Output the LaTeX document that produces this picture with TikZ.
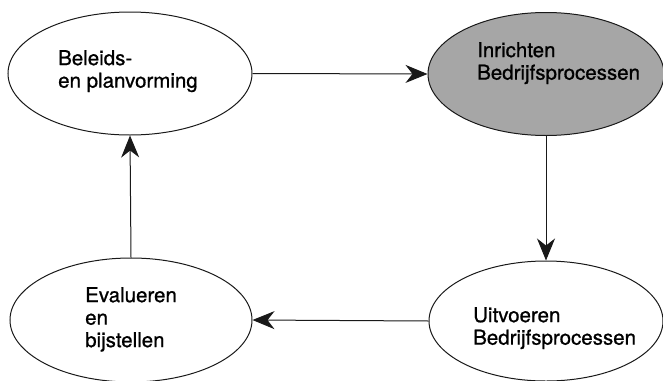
\documentclass[tikz,border=0pt]{standalone}
\usepackage{fontspec}
\setmainfont[FakeBold=0.9]{TeX Gyre Heros}
\usetikzlibrary{shapes.geometric,arrows.meta}

\begin{document}
\begin{tikzpicture}[x=1pt,y=-1pt,
  proc/.style={ellipse, draw=black!90, line width=1pt, inner sep=0pt},
  lbl/.style={anchor=north west, inner sep=0pt, align=left,
              font=\fontsize{20.5}{22.5}\selectfont},
  flow/.style={draw=black!90, line width=1pt,
               -{Stealth[length=22pt,width=18pt,inset=7pt]}}]
\useasboundingbox (0,0) rectangle (663,380);
\clip (0,0) rectangle (663,380);

% the four process stages
\node[proc, minimum width=244pt, minimum height=123pt] (plan)    at (130,73.5) {};
\node[proc, fill=black!35, minimum width=236pt, minimum height=123pt] (inricht) at (546,74) {};
\node[proc, minimum width=234pt, minimum height=120pt] (uitv)    at (546,321) {};
\node[proc, minimum width=242pt, minimum height=124pt] (eval)    at (131,320) {};

% stage labels
\node[lbl] (planT)    at (58,50)  {Beleids-\\en planvorming};
\node[lbl] (inrichtT) at (477,42) {Inrichten\\Bedrijfsprocessen};
\node[lbl] (uitvT)    at (473,307) {Uitvoeren\\Bedrijfsprocessen};
\node[lbl] (evalT)    at (85,287) {Evalueren\\en\\bijstellen};

% the cycle
\draw[flow] (plan.east) -- (inricht.west);
\draw[flow] (inricht.south) -- (uitv.north);
\draw[flow] (uitv.west) -- (eval.east);
\draw[flow] (eval.north) -- (plan.south);
\end{tikzpicture}
\end{document}
